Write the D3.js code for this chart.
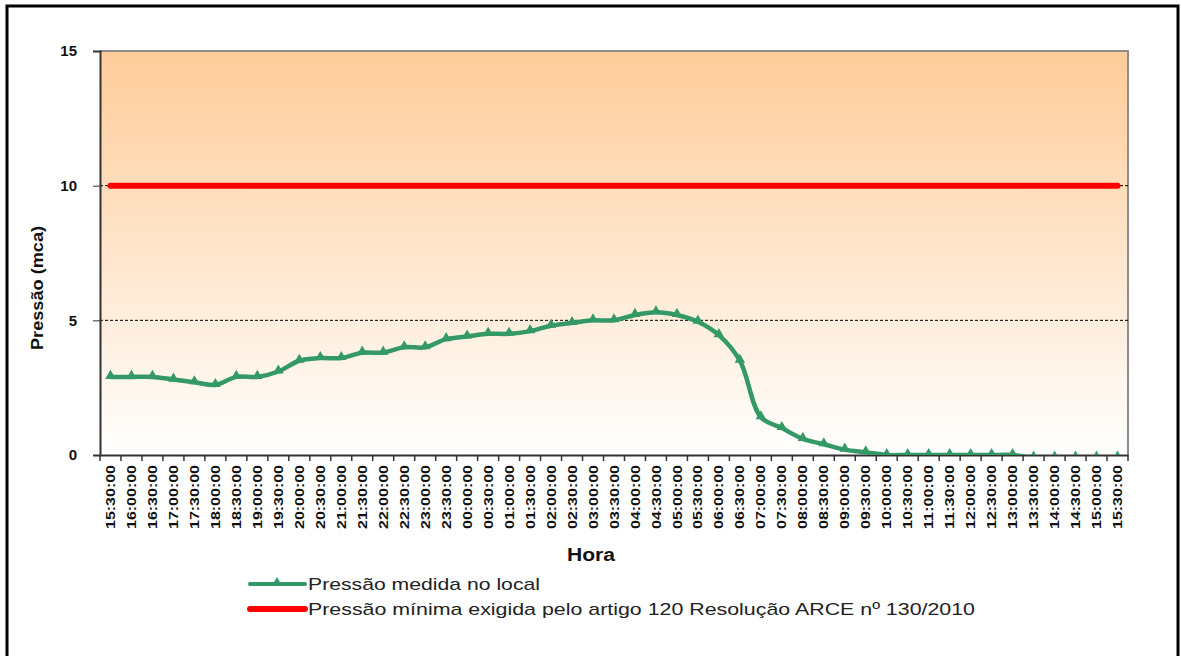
<!DOCTYPE html>
<html>
<head>
<meta charset="utf-8">
<script src="https://cdn.jsdelivr.net/npm/d3@7"></script>
<style>
  body { margin: 0; background: #fff; }
  svg { display: block; font-family: "Liberation Sans", Arial, sans-serif; }
</style>
</head>
<body>
<svg id="chart" width="1181" height="656"></svg>
<script>
const svg = d3.select('#chart')

// categories: every half hour, 15:30 to 15:30 of the next day
const horas = ['15:30:00','16:00:00','16:30:00','17:00:00','17:30:00','18:00:00','18:30:00','19:00:00',
	'19:30:00','20:00:00','20:30:00','21:00:00','21:30:00','22:00:00','22:30:00','23:00:00','23:30:00',
	'00:00:00','00:30:00','01:00:00','01:30:00','02:00:00','02:30:00','03:00:00','03:30:00','04:00:00',
	'04:30:00','05:00:00','05:30:00','06:00:00','06:30:00','07:00:00','07:30:00','08:00:00','08:30:00',
	'09:00:00','09:30:00','10:00:00','10:30:00','11:00:00','11:30:00','12:00:00','12:30:00','13:00:00',
	'13:30:00','14:00:00','14:30:00','15:00:00','15:30:00']

// measured pressure (mca), the last readings sit just under the axis
const pressao = [2.9, 2.9, 2.9, 2.8, 2.7, 2.6, 2.9, 2.9,
	3.1, 3.5, 3.6, 3.6, 3.8, 3.8, 4.0, 4.0, 4.3,
	4.4, 4.5, 4.5, 4.6, 4.8, 4.9, 5.0, 5.0, 5.2,
	5.3, 5.2, 4.95, 4.45, 3.5, 1.4, 1.0, 0.6, 0.4,
	0.2, 0.1, 0, 0, 0, 0, 0, 0, 0,
	-0.1, -0.1, -0.1, -0.1, -0.1]

// minimum required pressure
const minimo = horas.map(() => 10)

const yTicks = [0, 5, 10, 15]
const gridValues = [5, 10]

const legenda = [
	{label: 'Pressão medida no local', color: '#339966', marker: true},
	{label: 'Pressão mínima exigida pelo artigo 120 Resolução ARCE nº 130/2010', color: '#ff0000', marker: false}
]

const plot = {left: 100, right: 1128, top: 51, bottom: 455}
const green = '#339966'

// the first and last label are the same, so the band scale works on the index
const x = d3.scaleBand()
	.domain(d3.range(horas.length))
	.range([plot.left, plot.right])
const cx = i => x(i) + x.bandwidth() / 2

const y = d3.scaleLinear()
	.domain([0, 15])
	.range([plot.bottom, plot.top])

// outer frame
svg.append('rect')
	.attr('x', 7).attr('y', 6)
	.attr('width', 1171).attr('height', 700)
	.attr('fill', 'none')
	.attr('stroke', '#000')
	.attr('stroke-width', 3)

// plot background
const defs = svg.append('defs')
const grad = defs.append('linearGradient')
	.attr('id', 'bg')
	.attr('x1', 0).attr('y1', 0).attr('x2', 0).attr('y2', 1)
grad.append('stop').attr('offset', '0%').attr('stop-color', '#ffcc99')
grad.append('stop').attr('offset', '100%').attr('stop-color', '#ffffff')

defs.append('clipPath').attr('id', 'clip')
	.append('rect')
	.attr('x', plot.left).attr('y', plot.top)
	.attr('width', plot.right - plot.left).attr('height', plot.bottom - plot.top)

svg.append('rect')
	.attr('x', plot.left).attr('y', plot.top)
	.attr('width', plot.right - plot.left).attr('height', plot.bottom - plot.top)
	.attr('fill', 'url(#bg)')

// top and right border of the plot area
svg.append('path')
	.attr('d', `M${plot.left},${plot.top}H${plot.right}V${plot.bottom}`)
	.attr('fill', 'none')
	.attr('stroke', '#8c8c8c')
	.attr('stroke-width', 2)

// dashed gridlines
svg.selectAll('.grid')
	.data(gridValues)
	.join('line')
		.attr('class', 'grid')
		.attr('x1', plot.left).attr('x2', plot.right)
		.attr('y1', d => y(d)).attr('y2', d => y(d))
		.attr('stroke', '#000')
		.attr('stroke-width', 1)
		.attr('stroke-dasharray', '3,2')

// Y axis
const yAxis = svg.append('g')
	.attr('transform', 'translate(' + plot.left + ',0)')
	.call(d3.axisLeft(y).tickValues(yTicks).tickSize(7).tickPadding(16))
yAxis.select('.domain').attr('stroke', '#333').attr('stroke-width', 2)
yAxis.selectAll('.tick line').attr('stroke', '#333')
yAxis.selectAll('text')
	.attr('font-size', 15)
	.attr('font-weight', 'bold')
	.attr('font-family', '"Liberation Sans", Arial, sans-serif')
	.attr('fill', '#111')

// X axis, ticks between categories
const xAxis = svg.append('g')
	.attr('transform', 'translate(0,' + plot.bottom + ')')
	.call(d3.axisBottom(x).tickSize(0).tickPadding(0).tickFormat(i => horas[i]))
xAxis.select('.domain').attr('stroke', '#333').attr('stroke-width', 2)
xAxis.selectAll('text')
	.attr('transform', 'rotate(-90)')
	.attr('x', -10)
	.attr('y', 0)
	.attr('dy', '0.35em')
	.attr('text-anchor', 'end')
	.attr('font-size', 13)
	.attr('font-weight', 'bold')
	.attr('font-family', '"Liberation Sans", Arial, sans-serif')
	.attr('fill', '#111')
	.attr('textLength', 64)
	.attr('lengthAdjust', 'spacingAndGlyphs')

const bounds = horas.map((h, i) => x(i)).concat([plot.right])
svg.selectAll('.xtick')
	.data(bounds)
	.join('line')
		.attr('class', 'xtick')
		.attr('x1', d => d).attr('x2', d => d)
		.attr('y1', plot.bottom).attr('y2', plot.bottom + 6)
		.attr('stroke', '#333')
		.attr('stroke-width', 1.5)

// red minimum line
svg.append('path')
	.datum(minimo)
	.attr('fill', 'none')
	.attr('stroke', '#ff0000')
	.attr('stroke-width', 6)
	.attr('stroke-linecap', 'round')
	.attr('d', d3.line()
		.x((d, i) => cx(i))
		.y(d => y(d)))

// measured pressure line
const serie = svg.append('g').attr('clip-path', 'url(#clip)')
serie.append('path')
	.datum(pressao)
	.attr('fill', 'none')
	.attr('stroke', green)
	.attr('stroke-width', 4.5)
	.attr('stroke-linejoin', 'round')
	.attr('d', d3.line()
		.curve(d3.curveCatmullRom.alpha(0.5))
		.x((d, i) => cx(i))
		.y(d => y(d)))

serie.selectAll('.dot')
	.data(pressao)
	.join('path')
		.attr('class', 'dot')
		.attr('d', d3.symbol().type(d3.symbolTriangle).size(48))
		.attr('transform', (d, i) => 'translate(' + cx(i) + ',' + (y(d) - 1) + ')')
		.attr('fill', green)

// axis titles
svg.append('text')
	.attr('transform', 'translate(43,288) rotate(-90)')
	.attr('text-anchor', 'middle')
	.attr('font-size', 16)
	.attr('font-weight', 'bold')
	.attr('fill', '#111')
	.attr('textLength', 124)
	.attr('lengthAdjust', 'spacingAndGlyphs')
	.text('Pressão (mca)')

svg.append('text')
	.attr('x', 591)
	.attr('y', 561)
	.attr('text-anchor', 'middle')
	.attr('font-size', 18)
	.attr('font-weight', 'bold')
	.attr('fill', '#111')
	.attr('textLength', 48)
	.attr('lengthAdjust', 'spacingAndGlyphs')
	.text('Hora')

// legend
const leg = svg.selectAll('.leg')
	.data(legenda)
	.join('g')
		.attr('class', 'leg')
		.attr('transform', (d, i) => 'translate(250,' + (584 + i * 25) + ')')

leg.append('line')
	.attr('x1', 0).attr('x2', 55)
	.attr('stroke', d => d.color)
	.attr('stroke-width', (d, i) => i == 0 ? 4 : 6)
	.attr('stroke-linecap', 'round')

leg.filter(d => d.marker).append('path')
	.attr('d', d3.symbol().type(d3.symbolTriangle).size(48))
	.attr('transform', 'translate(27,-1)')
	.attr('fill', green)

leg.append('text')
	.attr('x', 58)
	.attr('dy', '0.35em')
	.attr('font-size', 17)
	.attr('fill', '#222')
	.attr('textLength', (d, i) => i == 0 ? 232 : 667)
	.attr('lengthAdjust', 'spacingAndGlyphs')
	.text(d => d.label)
</script>
</body>
</html>
